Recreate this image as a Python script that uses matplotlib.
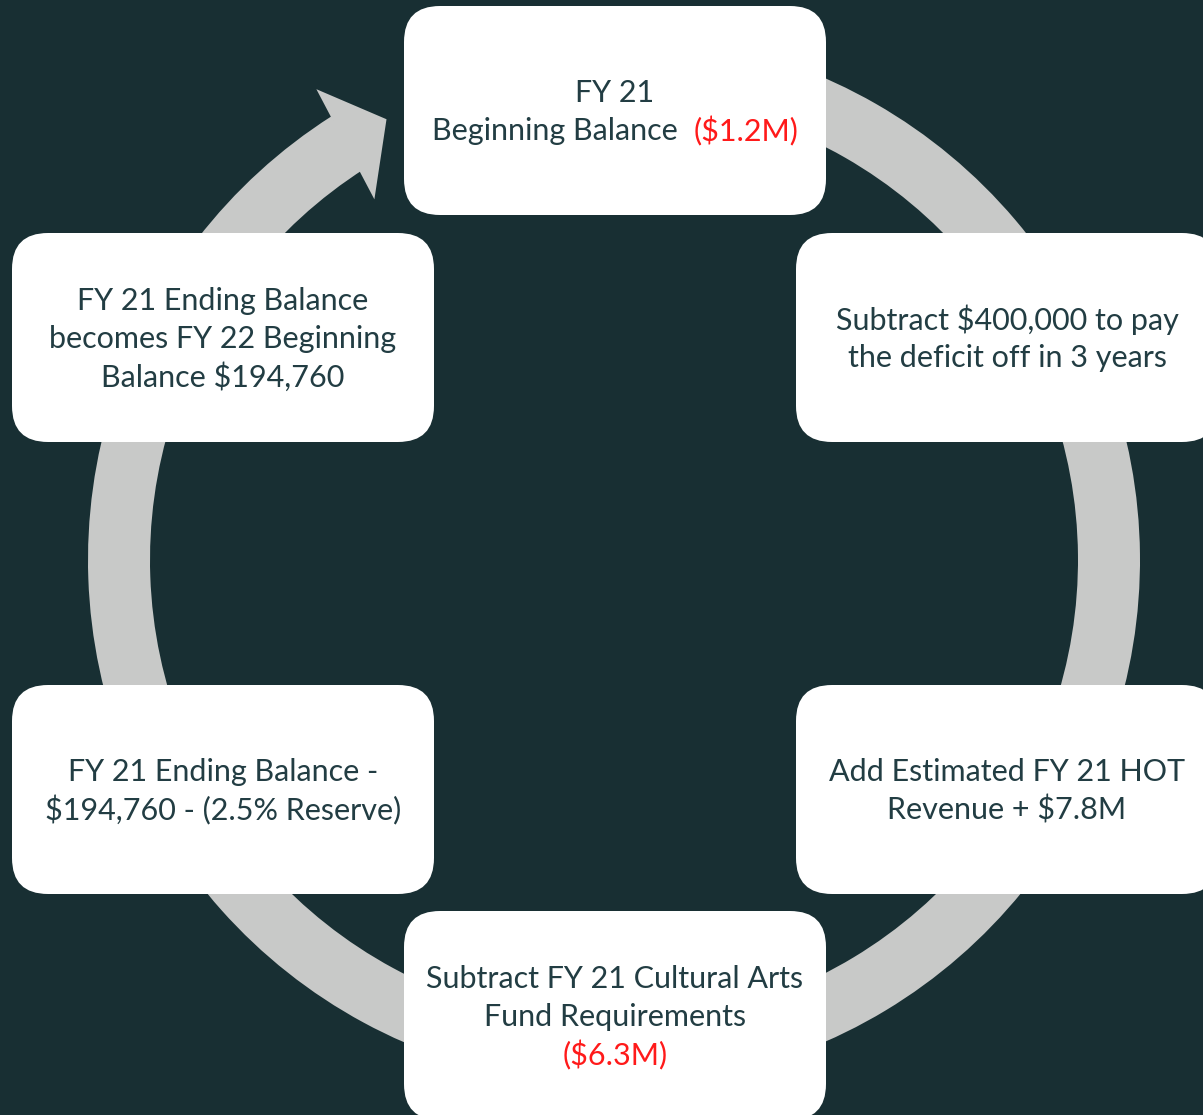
import numpy as np
import matplotlib.pyplot as plt
from matplotlib.patches import FancyBboxPatch, Wedge, Polygon

# each step: list of lines, each line a list of (text, is_negative) pieces
step_texts = [
    [[("FY 21", False)], [("Beginning Balance  ", False), ("($1.2M)", True)]],
    [[("Subtract $400,000 to pay", False)], [("the deficit off in 3 years", False)]],
    [[("Add Estimated FY 21 HOT", False)], [("Revenue + $7.8M", False)]],
    [[("Subtract FY 21 Cultural Arts", False)], [("Fund Requirements", False)],
     [("($6.3M)", True)]],
    [[("FY 21 Ending Balance -", False)], [("$194,760 - (2.5% Reserve)", False)]],
    [[("FY 21 Ending Balance", False)], [("becomes FY 22 Beginning", False)],
     [("Balance $194,760", False)]],
]

W, H = 1203, 1115
BG = '#182f33'
RING = '#c8c9c8'
INK = '#223d43'
RED = '#ff1a1a'
FONT = 'Lato'
FS = 22.0
LINE = 38

# box layout in pixels (top-left corner, screen y down)
box_x = [404, 796, 796, 404, 12, 12]
box_y = [6, 233, 685, 911, 685, 233]
box_w, box_h = 422, 209

fig = plt.figure(figsize=(W / 100, H / 100), dpi=100, facecolor=BG)
ax = fig.add_axes([0, 0, 1, 1])
ax.set_xlim(0, W)
ax.set_ylim(0, H)
ax.axis('off')
ax.set_facecolor(BG)

# ring with arrow head
cx, cy = 614, H - 560
r_out, r_in = 526, 464
ax.add_patch(Wedge((cx, cy), r_out, 122.5, 440, width=r_out - r_in,
                   facecolor=RING, edgecolor='none', zorder=1))


def pt(r, a):
    a = np.radians(a)
    return (cx + r * np.cos(a), cy + r * np.sin(a))


ax.add_patch(Polygon([pt(557, 122.3), pt(496, 117.3), pt(433, 123.6)],
                     closed=True, facecolor=RING, edgecolor='none', zorder=1))

renderer = fig.canvas.get_renderer()

for i, lines in enumerate(step_texts):
    x0, y0 = box_x[i], H - box_y[i] - box_h
    ax.add_patch(FancyBboxPatch((x0, y0), box_w, box_h,
                                boxstyle="round,pad=0,rounding_size=36",
                                facecolor='white', edgecolor='none', zorder=2))
    mx = x0 + box_w / 2
    my = y0 + box_h / 2 - 1.5
    n = len(lines)
    for j, pieces in enumerate(lines):
        ly = my + ((n - 1) / 2 - j) * LINE
        objs = []
        widths = []
        for txt, neg in pieces:
            t = ax.text(0, ly, txt, ha='left', va='center', fontsize=FS,
                        family=FONT, fontweight='normal',
                        color=RED if neg else INK, zorder=3)
            objs.append(t)
            widths.append(t.get_window_extent(renderer).width)
        x = mx - sum(widths) / 2
        for t, w in zip(objs, widths):
            t.set_x(x)
            x += w

fig.savefig('out.png', dpi=100, facecolor=BG)
